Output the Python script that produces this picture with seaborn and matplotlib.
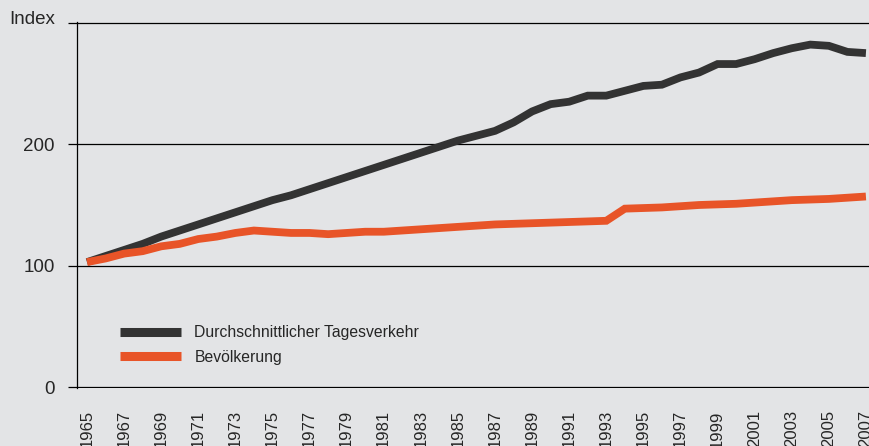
import numpy as np
import pandas as pd
import matplotlib
matplotlib.use("Agg")
import matplotlib.pyplot as plt
from matplotlib.transforms import ScaledTranslation
import seaborn as sns

# Data (index values, 1965 .. 2007)
YEARS = list(range(1965, 2008))
VERKEHR = [103, 108, 113, 118, 124, 129, 134, 139, 144, 149,
           154, 158, 163, 168, 173, 178, 183, 188, 193, 198,
           203, 207, 211, 218, 227, 233, 235, 240, 240, 244,
           248, 249, 255, 259, 266, 266, 270, 275, 279, 282,
           281, 276, 275]
BEVOELKERUNG = [103, 106, 110, 112, 116, 118, 122, 124, 127, 129,
                128, 127, 127, 126, 127, 128, 128, 129, 130, 131,
                132, 133, 134, 134.5, 135, 135.5, 136, 136.5, 137, 147,
                147.5, 148, 149, 150, 150.5, 151, 152, 153, 154, 154.5,
                155, 156, 157]
SERIES = ["Durchschnittlicher Tagesverkehr", "Bevölkerung"]
COLORS = ["#333333", "#e85428"]
Y_TICKS = [0, 100, 200, 300]
Y_LABELS = ["0", "100", "200", "Index"]
X_TICKS = list(range(1965, 2008, 2))

BG = "#e3e4e6"

df = pd.DataFrame({
    "Jahr": YEARS * 2,
    "Wert": VERKEHR + BEVOELKERUNG,
    "Reihe": [SERIES[0]] * len(YEARS) + [SERIES[1]] * len(YEARS),
})

sns.set_style("white", rc={"axes.facecolor": BG, "figure.facecolor": BG})
plt.rcParams["font.family"] = ["Liberation Sans", "DejaVu Sans"]

fig = plt.figure(figsize=(8.7, 4.46), dpi=100)
ax = fig.add_axes([77 / 870, 58 / 446, 1 - 77 / 870, 366 / 446])

sns.lineplot(data=df, x="Jahr", y="Wert", hue="Reihe", palette=COLORS,
             linewidth=5.6, ax=ax, solid_joinstyle="miter", solid_capstyle="butt")

ax.set_xlim(1964.46, 2007.22)
ax.set_ylim(-0.6, 300.6)

ax.set_yticks(Y_TICKS)
ax.set_yticklabels(Y_LABELS, fontsize=13.5)
ax.tick_params(axis="y", direction="out", length=6.5, width=0.9,
               color="black", pad=9.5, left=True)
ax.yaxis.grid(True, color="black", linewidth=0.9)
ax.set_axisbelow(True)
# "Index" sits a little above its gridline
idx_label = ax.get_yticklabels()[-1]
idx_label.set_transform(idx_label.get_transform()
                        + ScaledTranslation(0, 5 / 100, fig.dpi_scale_trans))

ax.set_xticks(X_TICKS)
ax.set_xticklabels([str(y) for y in X_TICKS], rotation=90, fontsize=12,
                   va="top")
ax.tick_params(axis="x", length=0, pad=16)

ax.set_xlabel("")
ax.set_ylabel("")
for side in ["top", "right", "bottom"]:
    ax.spines[side].set_visible(False)
ax.spines["left"].set_color("black")
ax.spines["left"].set_linewidth(0.9)

handles, labels = ax.get_legend_handles_labels()
leg = ax.legend(handles, labels, loc="center left",
                bbox_to_anchor=(0.054, 0.1175), frameon=False,
                borderpad=0, borderaxespad=0, handlelength=3.9,
                handletextpad=0.85, labelspacing=0.6,
                prop={"size": 11.3})
for h in leg.legend_handles:
    h.set_linewidth(6.5)
    h.set_solid_capstyle("butt")

fig.savefig("out.png", dpi=100, facecolor=BG)
